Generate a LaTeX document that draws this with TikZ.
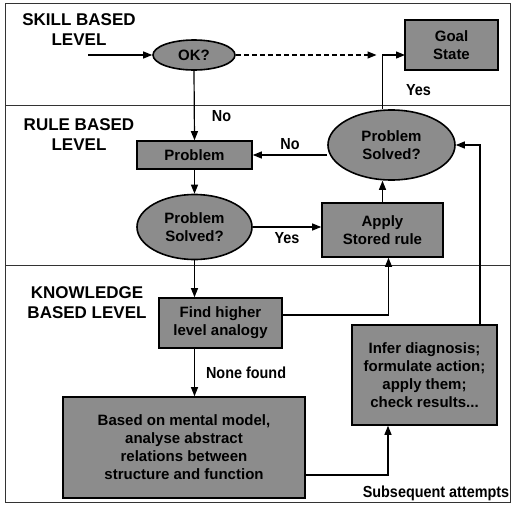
\documentclass[tikz,border=0pt]{standalone}
\usepackage{fontspec}
\setmainfont{Liberation Sans}
\newfontfamily\narrowfont[FakeStretch=0.9]{Liberation Sans}
\usetikzlibrary{arrows.meta, positioning, shapes.geometric}

\begin{document}
\begin{tikzpicture}[x=1pt, y=-1pt,
            % Shaded boxes
            stepbox/.style={draw, fill=black!45, line width=1.6pt,
                    align=center, inner sep=2pt,
                    font=\fontsize{15}{18}\selectfont\bfseries},
            % Decision ellipses
            decision/.style={ellipse, draw, fill=black!45, line width=1.6pt,
                    align=center, inner sep=0pt,
                    font=\fontsize{15}{18}\selectfont\bfseries},
            % Level titles
            level/.style={font=\fontsize{17}{20}\selectfont\bfseries, align=center},
            % Connector labels
            lbl/.style={font=\narrowfont\fontsize{16}{18}\selectfont\bfseries, inner sep=1pt},
            % Flow arrow
            arr/.style={-{Triangle[length=9pt, width=7pt]}, line width=1.2pt}
        ]
        \useasboundingbox (0,0) rectangle (512,504);

        % Frame and level bands
        \draw[line width=0.8pt, black!80] (5,3) rectangle (510,502);
        \draw[line width=0.8pt, black!80] (5,105) -- (510,105);
        \draw[line width=0.8pt, black!80] (5,265) -- (510,265);

        % Level titles
        \node[level] (lskill) at (79,30) {SKILL BASED\\LEVEL};
        \node[level] (lrule) at (79,135) {RULE BASED\\LEVEL};
        \node[level] (lknow) at (87,303) {KNOWLEDGE\\BASED LEVEL};

        % Skill based level
        \node[decision, minimum width=82pt, minimum height=30pt] (ok) at (194,55) {OK?};
        \node[stepbox, minimum width=93pt, minimum height=50pt] (goal) at (451.5,45) {Goal\\State};
        \coordinate (start) at (88,55);
        \coordinate (goalin) at (405,55);

        % Rule based level
        \node[stepbox, minimum width=115pt, minimum height=28pt] (problem) at (194.5,155) {Problem};
        \node[decision, minimum width=115pt, minimum height=65pt] (solved1) at (194.5,227) {Problem\\Solved?};
        \node[stepbox, minimum width=121pt, minimum height=54pt] (apply) at (382.5,230) {Apply\\Stored rule};
        \node[decision, minimum width=127pt, minimum height=70pt] (solved2) at (391.5,145) {Problem\\Solved?};

        % Knowledge based level
        \node[stepbox, minimum width=123pt, minimum height=50pt] (find) at (220.5,323) {Find higher\\level analogy};
        \node[stepbox, minimum width=242pt, minimum height=101pt] (based) at (184,447.5)
            {Based on mental model,\\analyse abstract\\relations between\\structure and function};
        \node[stepbox, minimum width=145pt, minimum height=100pt] (infer) at (424.5,375)
            {Infer diagnosis;\\formulate action;\\apply them;\\check results...};

        % Arrows
        \draw[arr] (start) -- (ok.west);
        \draw[arr, dash pattern=on 5pt off 3pt] (ok.east) -- ([xshift=-6pt]goalin -| apply.north);
        \draw[arr] (apply.north |- solved2.north) |- node[lbl, pos=0.18, right=22pt] {Yes} (goalin);
        \draw[arr] (ok.south) -- node[lbl, pos=0.65, right=16pt] {No} (problem.north);
        \draw[arr] (solved2.west |- problem.east) -- node[lbl, midway, above=4pt] {No} (problem.east);
        \draw[arr] (problem.south) -- (solved1.north);
        \draw[arr] (solved1.east) -- node[lbl, midway, below=4pt] {Yes} (solved1.east -| apply.west);
        \draw[arr] (apply.north) -- (apply.north |- solved2.south);
        \draw[arr] (solved1.south) -- (solved1.south |- find.north);
        \draw[arr] ([yshift=8pt]find.east) -| ([xshift=6pt]apply.south);
        \draw[arr] (solved1.south |- find.south) -- node[lbl, midway, right=10pt] {None found} (solved1.south |- based.north);
        \draw[arr] ([yshift=-27.5pt]based.east) -| node[lbl, pos=0.5, below=9pt, xshift=48pt] {Subsequent attempts} ([xshift=-36.5pt]infer.south);
        \draw[arr] ([xshift=55.5pt]infer.north) |- (solved2.east);

    \end{tikzpicture}
\end{document}
